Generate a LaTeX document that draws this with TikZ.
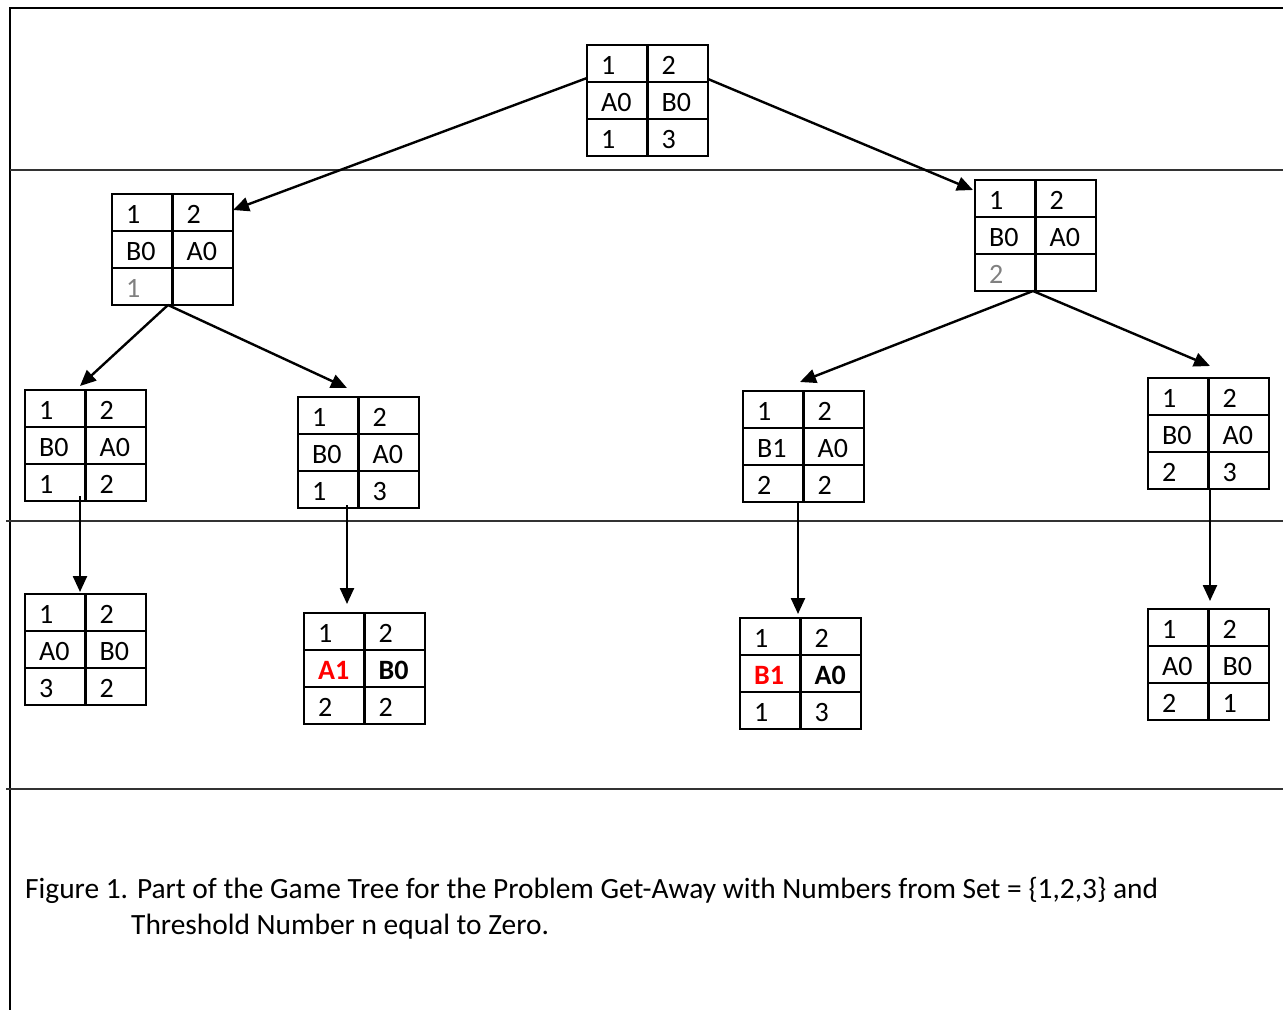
\documentclass[tikz,border=0pt]{standalone}
\usepackage{fontspec}
\setmainfont{Carlito}
\usetikzlibrary{arrows.meta}
\definecolor{greytxt}{RGB}{128,128,128}
\definecolor{redtxt}{RGB}{255,0,0}
\tikzset{
  frameline/.style={line width=2.2pt, black},
  divider/.style={line width=1.8pt, black!80},
  tabbox/.style={draw, line width=2.2pt, minimum width=121pt, minimum height=111pt,
                 anchor=north west, inner sep=0pt, outer sep=0pt},
  cellline/.style={line width=2.2pt},
  ctext/.style={anchor=base west, inner sep=0pt, font=\fontsize{28}{33}\selectfont},
  conn/.style={line width=2.4pt, -{Triangle[length=16pt,width=14pt]}},
  caption/.style={anchor=base west, inner sep=0pt, font=\fontsize{29.4}{35}\selectfont}
}
% #1 name, #2 x, #3 y, #4 r2 left, #5 r2 right, #6 r3 left, #7 r3 right
\newcommand\gtab[7]{%
  \node[tabbox] (#1) at (#2,#3) {};
  \draw[cellline] (#2+60.5,#3) -- ++(0,111);
  \draw[cellline] (#2,#3+37) -- ++(121,0);
  \draw[cellline] (#2,#3+74) -- ++(121,0);
  \node[ctext] (#1-a) at (#2+14,#3+29) {1};
  \node[ctext] (#1-b) at (#2+74.5,#3+29) {2};
  \node[ctext] (#1-c) at (#2+14,#3+66) {#4};
  \node[ctext] (#1-d) at (#2+74.5,#3+66) {#5};
  \node[ctext] (#1-e) at (#2+14,#3+103) {#6};
  \node[ctext] (#1-f) at (#2+74.5,#3+103) {#7};
}
\begin{document}
\begin{tikzpicture}[x=1pt,y=-1pt]
\useasboundingbox (0,0) rectangle (1283,1010);
% frame
\coordinate (fTL) at (10,8);
\coordinate (fTR) at (1283,8);
\coordinate (fBL) at (10,1010);
\draw[frameline] (fTR) -- (fTL) -- (fBL);
\coordinate (d1l) at (10,170);   \coordinate (d1r) at (1283,170);
\coordinate (d2l) at (6,521);    \coordinate (d2r) at (1283,521);
\coordinate (d3l) at (6,789);    \coordinate (d3r) at (1283,789);
\draw[divider] (d1l) -- (d1r);
\draw[divider] (d2l) -- (d2r);
\draw[divider] (d3l) -- (d3r);
% tables
\gtab{top}{587}{45}{A0}{B0}{1}{3}
\gtab{L}{112}{194}{B0}{A0}{\textcolor{greytxt}{1}}{}
\gtab{R}{975}{180}{B0}{A0}{\textcolor{greytxt}{2}}{}
\gtab{LA}{25}{390}{B0}{A0}{1}{2}
\gtab{LB}{298}{397}{B0}{A0}{1}{3}
\gtab{RC}{743}{391}{B1}{A0}{2}{2}
\gtab{RD}{1148}{378}{B0}{A0}{2}{3}
\gtab{LAE}{25}{594}{A0}{B0}{3}{2}
\gtab{LBF}{304}{613}{\textcolor{redtxt}{\bfseries A1}}{\bfseries B0}{2}{2}
\gtab{RCG}{740}{618}{\textcolor{redtxt}{\bfseries B1}}{\bfseries A0}{1}{3}
\gtab{RDH}{1148}{609}{A0}{B0}{2}{1}
% connectors
\draw[conn] ([shift={(0,33)}]top.north west) -- ([shift={(0,16)}]L.north east);
\draw[conn] ([shift={(0,34)}]top.north east) -- ([shift={(-2,10)}]R.north west);
\draw[conn] ([shift={(56,0)}]L.south west) -- ([shift={(55,-4)}]LA.north west);
\draw[conn] ([shift={(56,0)}]L.south west) -- ([shift={(49,-9)}]LB.north west);
\draw[conn] ([shift={(58,0)}]R.south west) -- ([shift={(57,-9)}]RC.north west);
\draw[conn] ([shift={(58,0)}]R.south west) -- ([shift={(62,-12)}]RD.north west);
\draw[conn] ([shift={(55,-5)}]LA.south west) -- ([shift={(55,-2)}]LAE.north west);
\draw[conn] ([shift={(49,-3)}]LB.south west) -- ([shift={(43,-9)}]LBF.north west);
\draw[conn] ([shift={(55,0)}]RC.south west) -- ([shift={(58,-4)}]RCG.north west);
\draw[conn] ([shift={(62,0)}]RD.south west) -- ([shift={(62,-8)}]RDH.north west);
% caption
\node[caption] (cap1) at (25,898) {Figure 1. Part of the Game Tree for the Problem Get-Away with Numbers from Set = \{1,2,3\} and};
\node[caption] (cap2) at (131,934) {Threshold Number n equal to Zero.};
\end{tikzpicture}
\end{document}
